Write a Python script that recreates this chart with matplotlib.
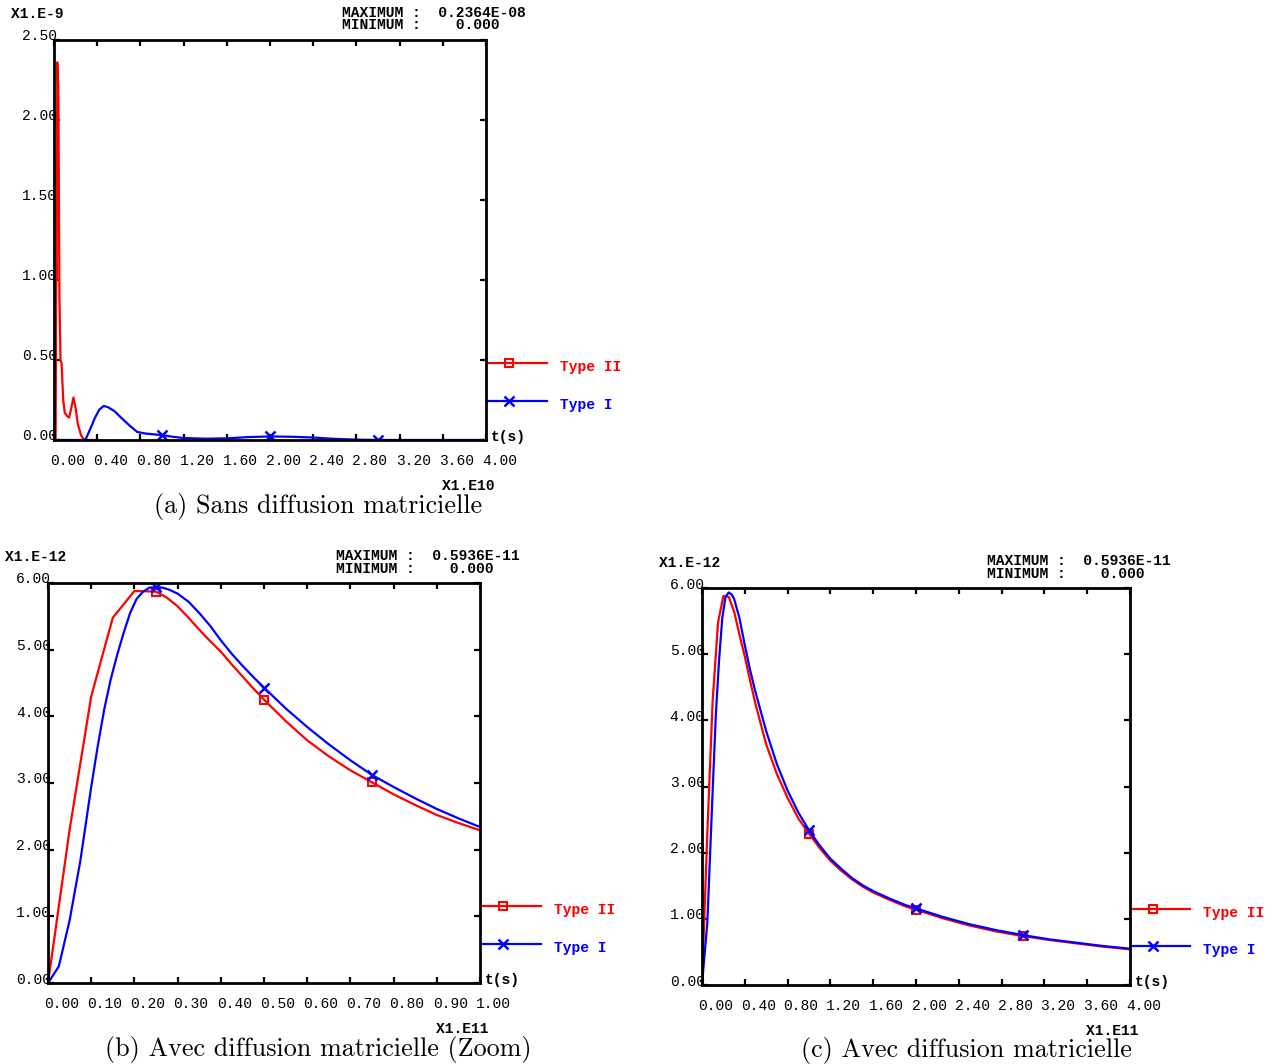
import numpy as np
import matplotlib
matplotlib.use("Agg")
import matplotlib.pyplot as plt
from matplotlib.transforms import ScaledTranslation

# ── data (x in units of the X1.E.. factor, y in units of the X1.E-.. factor) ──

# (a) Sans diffusion matricielle  — x * 1e10 s, y * 1e-9
A_RED_X = [0.0, 0.015, 0.02, 0.025, 0.03, 0.04, 0.045, 0.05, 0.06, 0.07, 0.085,
           0.10, 0.12, 0.14, 0.16, 0.18, 0.20, 0.22, 0.25, 0.28, 0.40]
A_RED_Y = [0.0, 0.0, 1.10, 1.00, 2.36, 2.20, 1.60, 0.90, 0.50, 0.48, 0.25,
           0.17, 0.15, 0.14, 0.20, 0.265, 0.20, 0.10, 0.03, 0.0, 0.0]
A_BLUE_X = [0.0, 0.29, 0.33, 0.38, 0.42, 0.46, 0.50, 0.56, 0.62, 0.70, 0.77,
            0.85, 1.0, 1.1, 1.2, 1.4, 1.6, 1.8, 2.0, 2.2, 2.4, 2.6, 2.8, 3.0, 4.0]
A_BLUE_Y = [0.0, 0.0, 0.06, 0.14, 0.19, 0.2125, 0.205, 0.18, 0.14, 0.09, 0.05,
            0.04, 0.03, 0.02, 0.012, 0.008, 0.010, 0.018, 0.022, 0.020, 0.015,
            0.007, 0.002, 0.0, 0.0]
A_MARKS = [1.0, 2.0, 3.0]

# (b) Avec diffusion matricielle (Zoom)  — x * 1e11 s, y * 1e-12
B_RED_X = [0.0, 0.05, 0.10, 0.15, 0.20, 0.25, 0.275, 0.30, 0.325, 0.35, 0.375,
           0.40, 0.425, 0.45, 0.475, 0.50, 0.55, 0.60, 0.65, 0.70, 0.75,
           0.80, 0.85, 0.90, 0.95, 1.0]
B_RED_Y = [0.0, 2.30, 4.30, 5.48, 5.88, 5.87, 5.78, 5.65, 5.48, 5.30, 5.13,
           4.97, 4.78, 4.60, 4.42, 4.25, 3.93, 3.64, 3.40, 3.19, 3.01,
           2.83, 2.67, 2.52, 2.40, 2.29]
B_BLUE_X = [0.0, 0.025, 0.05, 0.075, 0.10, 0.115, 0.13, 0.145, 0.16, 0.175,
            0.19, 0.205, 0.22, 0.235, 0.25, 0.265, 0.28, 0.30, 0.325, 0.35,
            0.375, 0.40, 0.425, 0.45, 0.475, 0.50, 0.55, 0.60, 0.65, 0.70,
            0.75, 0.80, 0.85, 0.90, 0.95, 1.0]
B_BLUE_Y = [0.0, 0.25, 0.94, 1.84, 2.94, 3.55, 4.10, 4.55, 4.92, 5.25,
            5.55, 5.76, 5.87, 5.93, 5.936, 5.93, 5.90, 5.84, 5.72, 5.55,
            5.36, 5.14, 4.94, 4.76, 4.59, 4.43, 4.12, 3.84, 3.58, 3.34,
            3.12, 2.94, 2.77, 2.61, 2.47, 2.34]
B_MARKS = [0.25, 0.50, 0.75]

# (c) Avec diffusion matricielle  — x * 1e11 s, y * 1e-12
C_RED_X = [0.0, 0.05, 0.10, 0.15, 0.20, 0.25, 0.30, 0.35, 0.40, 0.45, 0.50,
           0.60, 0.70, 0.80, 0.90, 1.0, 1.1, 1.2, 1.3, 1.4, 1.5, 1.6, 1.75,
           1.9, 2.0, 2.25, 2.5, 2.75, 3.0, 3.25, 3.5, 3.75, 4.0]
C_RED_Y = [0.0, 2.30, 4.30, 5.48, 5.88, 5.87, 5.65, 5.30, 4.97, 4.60, 4.25,
           3.64, 3.19, 2.83, 2.52, 2.29, 2.07, 1.88, 1.73, 1.60, 1.49, 1.40,
           1.29, 1.19, 1.14, 1.01, 0.90, 0.81, 0.74, 0.68, 0.63, 0.58, 0.54]
C_BLUE_X = [0.0, 0.05, 0.10, 0.13, 0.16, 0.19, 0.22, 0.25, 0.28, 0.30, 0.35,
            0.40, 0.45, 0.50, 0.60, 0.70, 0.80, 0.90, 1.0, 1.1, 1.2, 1.3,
            1.4, 1.5, 1.6, 1.75, 1.9, 2.0, 2.25, 2.5, 2.75, 3.0, 3.25, 3.5,
            3.75, 4.0]
C_BLUE_Y = [0.0, 0.94, 2.94, 4.10, 4.92, 5.55, 5.87, 5.936, 5.90, 5.84, 5.55,
            5.14, 4.76, 4.43, 3.84, 3.34, 2.94, 2.61, 2.34, 2.11, 1.91, 1.76,
            1.62, 1.51, 1.42, 1.31, 1.21, 1.16, 1.03, 0.92, 0.83, 0.755, 0.69,
            0.64, 0.59, 0.55]
C_MARKS = [1.0, 2.0, 3.0]

RED = "#ff0000"
BLUE = "#0000ff"
MONO = "Liberation Mono"
PX = 1 / 100  # one pixel in inches at dpi=100


# ── one CASTEM-style panel ────────────────────────────────────────────────────

def draw_panel(fig, rect, red, blue, marks, red_marks, xlim, xstep, ylim, ystep,
               yfac, xfac, maximum, caption, cap_x):
    ax = fig.add_axes(rect)
    rx, ry = red
    bx, by = blue

    ridx = list(np.flatnonzero(np.isin(rx, red_marks))) if red_marks else None
    bidx = list(np.flatnonzero(np.isin(bx, marks)))
    ax.plot(rx, ry, color=RED, lw=1.6, marker="s" if ridx else None,
            markevery=ridx, ms=6, mfc="none", mec=RED, mew=1.5)
    ax.plot(bx, by, color=BLUE, lw=1.6, marker="x", markevery=bidx,
            ms=7, mec=BLUE, mew=1.8)

    ax.set_xlim(0, xlim)
    ax.set_ylim(0, ylim)
    ax.set_xticks(np.round(np.arange(0, xlim + xstep / 2, xstep), 4))
    ax.set_yticks(np.round(np.arange(0, ylim + ystep / 2, ystep), 4))
    ax.xaxis.set_major_formatter("{x:.2f}")
    ax.yaxis.set_major_formatter("{x:.2f}")
    ax.tick_params(direction="in", length=4.5, width=1.6, top=True, right=True,
                   labelsize=10.5, labelfontfamily=MONO)
    ax.tick_params(axis="x", pad=10)
    ax.tick_params(axis="y", pad=-2)
    for lab in ax.get_xticklabels():
        lab.set_ha("left")
        lab.set_transform(lab.get_transform() + ScaledTranslation(-4 * PX, 0, fig.dpi_scale_trans))
    for lab in ax.get_yticklabels():
        lab.set_transform(lab.get_transform() + ScaledTranslation(0, 5 * PX, fig.dpi_scale_trans))
    for s in ax.spines.values():
        s.set_linewidth(2)

    kw = dict(transform=ax.transAxes, family=MONO, fontsize=10.5, weight="bold")
    ax.text(-0.10, 1.064, yfac, ha="left", va="center", **kw)
    ax.text(0.667, 1.068, f"MAXIMUM :  {maximum}", ha="left", va="center", **kw)
    ax.text(0.667, 1.036, "MINIMUM :    0.000", ha="left", va="center", **kw)
    ax.text(1.012, 0.008, "t(s)", ha="left", va="center", **kw)
    ax.text(1.02, -0.115, xfac, ha="right", va="center", **kw)
    ax.text(cap_x, -0.166, caption, transform=ax.transAxes, ha="center",
            va="center", family="cmr10", fontsize=18.8)

    # legend drawn beside the right spine
    for y, col, mk, mew, lab in [(0.1925, RED, "s", 1.5, "Type II"),
                                 (0.0975, BLUE, "x", 1.8, "Type I")]:
        ax.plot([1.005, 1.14], [y, y], color=col, lw=1.6, transform=ax.transAxes,
                clip_on=False)
        ax.plot([1.053], [y], color=col, marker=mk, ms=6 if mk == "s" else 7,
                mfc="none", mew=mew, transform=ax.transAxes, clip_on=False)
        ax.text(1.171, y - 0.01, lab, color=col, transform=ax.transAxes,
                ha="left", va="center", family=MONO, fontsize=10.5, weight="bold")
    return ax


fig = plt.figure(figsize=(12.77, 10.64), dpi=100)

draw_panel(fig, [0.0423, 0.5865, 0.3383, 0.376], (A_RED_X, A_RED_Y),
           (A_BLUE_X, A_BLUE_Y), A_MARKS, None, 4.0, 0.4, 2.5, 0.5,
           "X1.E-9", "X1.E10", "0.2364E-08",
           "(a) Sans diffusion matricielle", 0.611)
draw_panel(fig, [0.0376, 0.0761, 0.3383, 0.376], (B_RED_X, B_RED_Y),
           (B_BLUE_X, B_BLUE_Y), B_MARKS, B_MARKS, 1.0, 0.1, 6.0, 1.0,
           "X1.E-12", "X1.E11", "0.5936E-11",
           "(b) Avec diffusion matricielle (Zoom)", 0.625)
draw_panel(fig, [0.5497, 0.0742, 0.3352, 0.373], (C_RED_X, C_RED_Y),
           (C_BLUE_X, C_BLUE_Y), C_MARKS, C_MARKS, 4.0, 0.4, 6.0, 1.0,
           "X1.E-12", "X1.E11", "0.5936E-11",
           "(c) Avec diffusion matricielle", 0.618)

fig.savefig("out.png", dpi=100)
